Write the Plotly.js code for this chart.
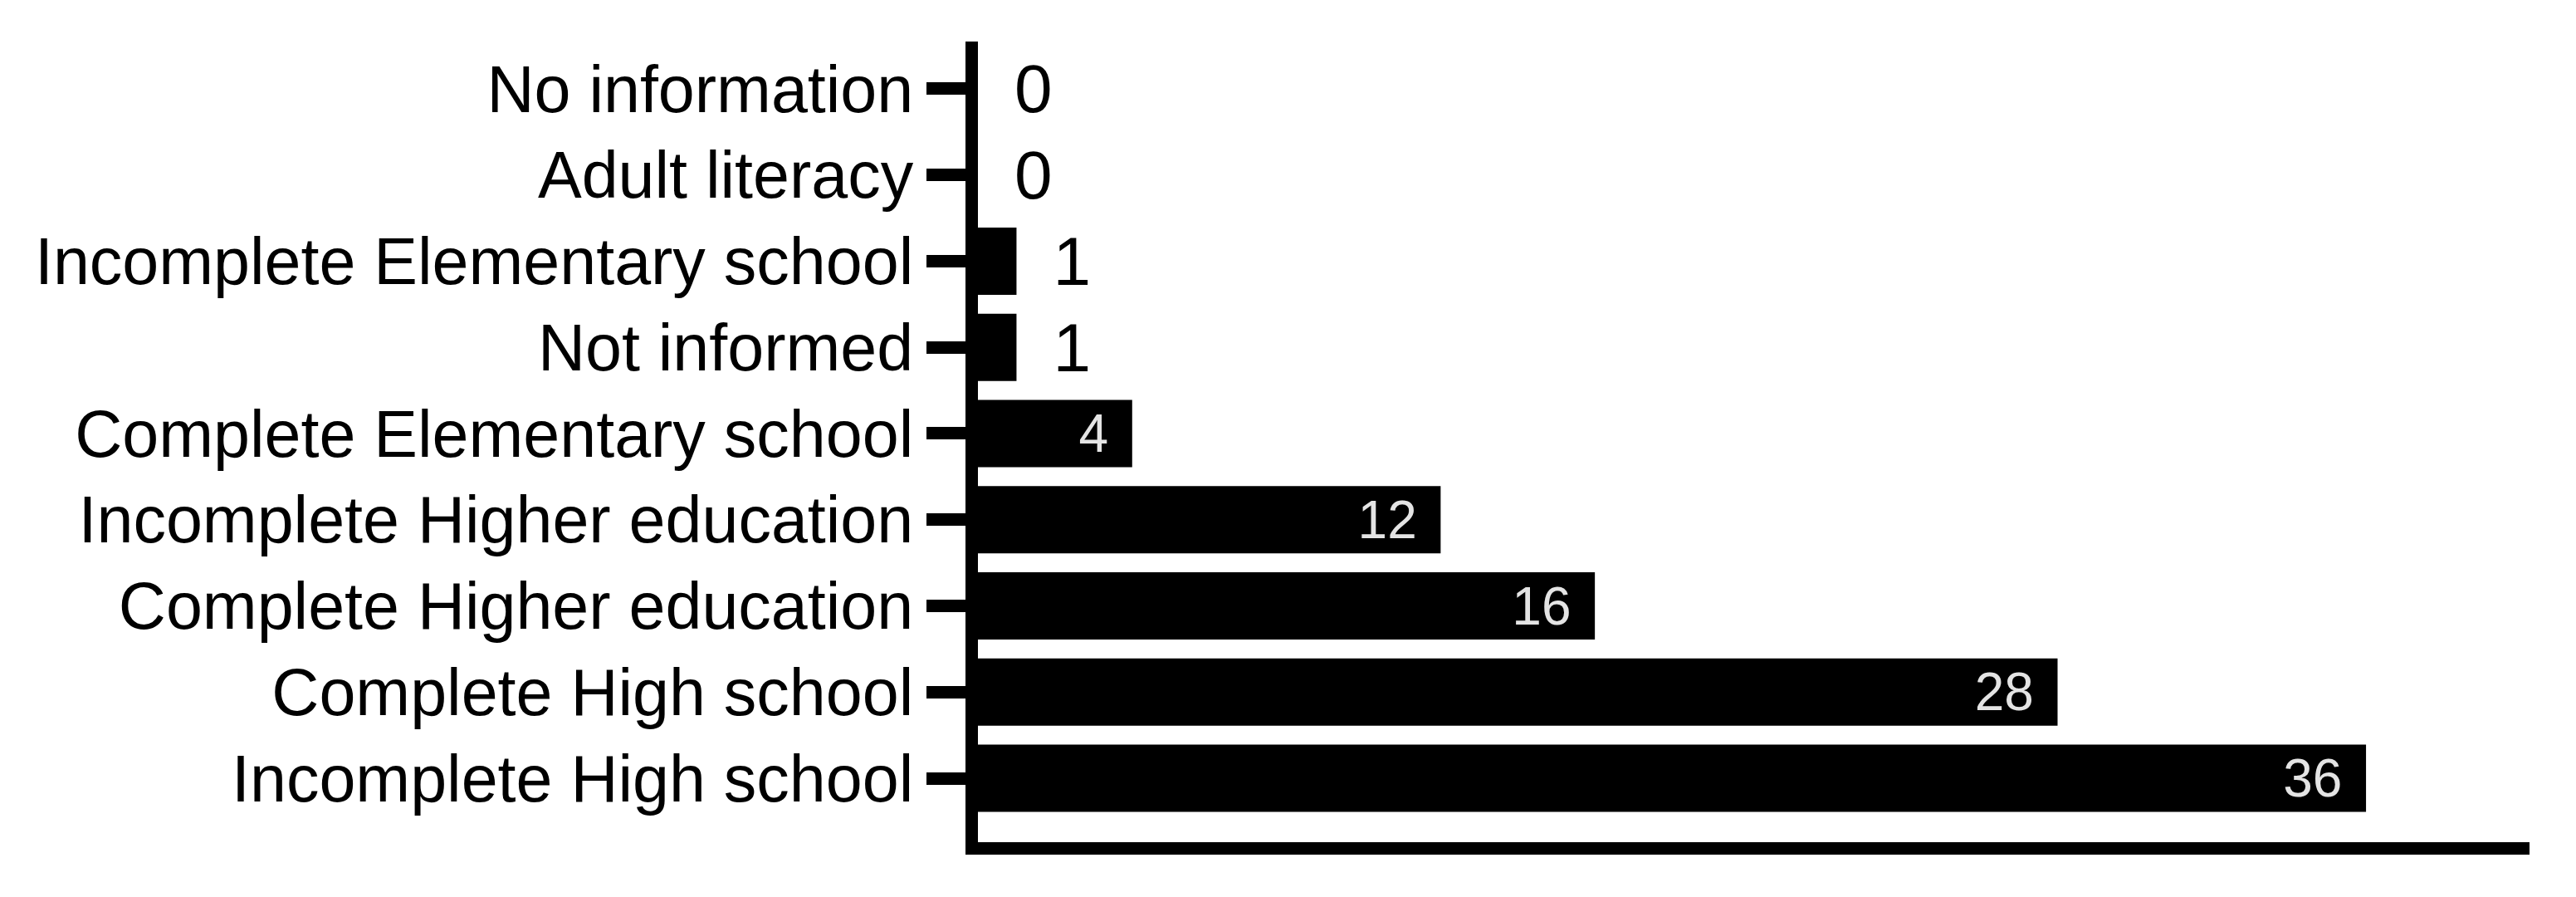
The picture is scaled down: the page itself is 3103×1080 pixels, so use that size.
<!DOCTYPE html>
<html>
<head>
<meta charset="utf-8">
<script src="https://cdn.plot.ly/plotly-3.0.1.min.js"></script>
<style>
  html, body { margin: 0; padding: 0; background: #ffffff; }
  #chart { width: 3103px; height: 1080px; }
</style>
</head>
<body>
<div id="chart"></div>
<script>
// Categories listed from top to bottom as in the figure
const categories = [
  "No information",
  "Adult literacy",
  "Incomplete Elementary school",
  "Not informed",
  "Complete Elementary school",
  "Incomplete Higher education",
  "Complete Higher education",
  "Complete High school",
  "Incomplete High school"
];
const counts = [0, 0, 1, 1, 4, 12, 16, 28, 36];

// Labels that fit inside the bar are drawn inside, the others outside
const positions = counts.map(v => (v >= 4 ? "inside" : "outside"));
const labels = counts.map((v, i) =>
  positions[i] === "inside" ? String(v) + "\u2009\u2009" : "\u2002" + String(v)
);

const FONT = "Liberation Sans, Arial, Helvetica, sans-serif";

const trace = {
  type: "bar",
  orientation: "h",
  y: categories,
  x: counts,
  width: 0.78,
  marker: { color: "#000000", line: { width: 0 } },
  text: labels,
  textposition: positions,
  insidetextanchor: "end",
  insidetextfont: { family: FONT, size: 64, color: "#e4e4e4" },
  outsidetextfont: { family: FONT, size: 82, color: "#000000" },
  constraintext: "none",
  cliponaxis: false,
  hoverinfo: "none"
};

const layout = {
  width: 3103,
  height: 1080,
  margin: { l: 1178, r: 56, t: 50, b: 66, pad: 0 },
  paper_bgcolor: "#ffffff",
  plot_bgcolor: "#ffffff",
  showlegend: false,
  font: { family: FONT, color: "#000000" },
  xaxis: {
    range: [0, 40.24],
    showline: true,
    linecolor: "#000000",
    linewidth: 15,
    showgrid: false,
    zeroline: false,
    ticks: "",
    showticklabels: false,
    fixedrange: true
  },
  yaxis: {
    type: "category",
    categoryorder: "array",
    categoryarray: categories,
    range: [8.742, -0.549],
    showline: true,
    linecolor: "#000000",
    linewidth: 15,
    showgrid: false,
    zeroline: false,
    ticks: "outside",
    ticklen: 47,
    tickwidth: 15,
    tickcolor: "#000000",
    tickfont: { family: FONT, size: 79, color: "#000000" },
    fixedrange: true
  }
};

Plotly.newPlot("chart", [trace], layout, { staticPlot: true, displayModeBar: false });
</script>
</body>
</html>
